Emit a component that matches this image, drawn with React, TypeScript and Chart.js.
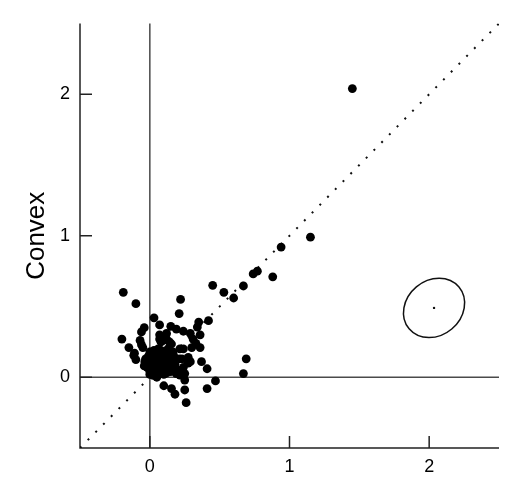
import React, { useEffect, useRef } from "react";
import { Chart, registerables } from "chart.js";

Chart.register(...registerables);

// Scatter values (x: reference method, y: Convex)
const xValues = [
  -0.19, -0.1, 0.22, 0.45, 0.53, 0.6, 0.67, 0.74, 0.77, 0.88, 0.94, 1.15, 1.45,
  0.21, 0.03, 0.07, 0.15, 0.19, 0.24, 0.29, 0.36, 0.35, 0.34, 0.42,
  -0.04, -0.06, -0.2, -0.15, -0.07, -0.06, -0.11, -0.115, -0.1,
  0.07, 0.12, 0.08, 0.14, 0.095, 0.08, 0.13, 0.215, 0.3, 0.36, 0.31, 0.17, 0.23, 0.275, 0.29,
  0.24, 0.2, 0.215, 0.25, 0.19, 0.13, 0.41, 0.69, 0.67, 0.47, 0.41, 0.25, 0.25, 0.26, 0.18,
  0.155, 0.1, 0.05, 0.024, 0.0, -0.02, -0.036, -0.05, 0.37, 0.165, 0.21,
  -0.03, -0.01, 0.0, 0.01, 0.02, 0.03, 0.04, 0.05, 0.05, 0.06, 0.07, 0.08, 0.09, 0.1, 0.11,
  0.12, 0.13, 0.14, 0.15, 0.16, 0.17, 0.18, 0.02, 0.04, 0.06, 0.08, -0.02, 0.0, 0.03, 0.1,
  0.12, 0.01, 0.06, 0.09, 0.11, 0.14, -0.04, 0.0, 0.07, 0.15,
  0.07, 0.12, 0.155, 0.275, 0.24, 0.33,
];
const convexValues = [
  0.6, 0.52, 0.55, 0.65, 0.6, 0.56, 0.645, 0.73, 0.75, 0.71, 0.92, 0.99, 2.04,
  0.45, 0.42, 0.37, 0.36, 0.34, 0.325, 0.31, 0.3, 0.39, 0.355, 0.4,
  0.35, 0.32, 0.27, 0.21, 0.26, 0.23, 0.17, 0.155, 0.125,
  0.3, 0.31, 0.25, 0.25, 0.26, 0.19, 0.2, 0.2, 0.21, 0.21, 0.27, 0.155, 0.13, 0.14, 0.11,
  0.07, 0.05, 0.015, 0.026, 0.026, 0.04, 0.06, 0.13, 0.026, -0.026, -0.08, -0.02, -0.09, -0.18, -0.12,
  -0.08, -0.06, 0.0, 0.014, 0.04, 0.07, 0.11, 0.21, 0.11, 0.18, 0.13,
  0.13, 0.15, 0.1, 0.12, 0.08, 0.14, 0.1, 0.06, 0.12, 0.16, 0.09, 0.13, 0.07, 0.11, 0.15,
  0.08, 0.12, 0.17, 0.1, 0.06, 0.13, 0.09, 0.04, 0.02, 0.03, 0.05, 0.09, 0.18, 0.19, 0.02,
  0.03, 0.06, 0.2, 0.17, 0.05, 0.14, 0.08, 0.02, 0.11, 0.04,
  0.27, 0.27, 0.235, 0.1, 0.2, 0.24,
];

const tickValues = [0, 1, 2];
const axisRange = [-0.5, 2.5];
const diagonalEnds = [-0.5, 2.5];
const ellipseCenter = [2.035, 0.49];
const ellipseRadii = [0.233, 0.197];
const ellipseAngleDeg = 40;

const FONT = "'Liberation Sans', Arial, Helvetica, sans-serif";

const decorPlugin = {
  id: "decor",
  beforeDatasetsDraw(chart: any) {
    const { ctx, chartArea, scales } = chart;
    const xs = scales.x;
    const ys = scales.y;
    const { left, right, top, bottom } = chartArea;
    ctx.save();
    // zero lines
    ctx.strokeStyle = "#4a4a4a";
    ctx.lineWidth = 1.5;
    const x0 = xs.getPixelForValue(0);
    const y0 = ys.getPixelForValue(0);
    ctx.beginPath();
    ctx.moveTo(x0, top);
    ctx.lineTo(x0, bottom);
    ctx.moveTo(left, y0);
    ctx.lineTo(right, y0);
    ctx.stroke();
    // axes
    ctx.strokeStyle = "#222";
    ctx.lineWidth = 1.5;
    ctx.beginPath();
    ctx.moveTo(left, top);
    ctx.lineTo(left, bottom);
    ctx.lineTo(right, bottom);
    ctx.stroke();
    // inward ticks
    ctx.beginPath();
    tickValues.forEach((v) => {
      const px = xs.getPixelForValue(v);
      ctx.moveTo(px, bottom);
      ctx.lineTo(px, bottom - 12);
      const py = ys.getPixelForValue(v);
      ctx.moveTo(left, py);
      ctx.lineTo(left + 12, py);
    });
    ctx.stroke();
    ctx.restore();
  },
  afterDatasetsDraw(chart: any) {
    const { ctx, scales } = chart;
    const xs = scales.x;
    const ys = scales.y;
    const cx = xs.getPixelForValue(ellipseCenter[0]);
    const cy = ys.getPixelForValue(ellipseCenter[1]);
    const pxPerUnit = Math.abs(xs.getPixelForValue(1) - xs.getPixelForValue(0));
    ctx.save();
    ctx.strokeStyle = "#111";
    ctx.lineWidth = 1.5;
    ctx.beginPath();
    ctx.ellipse(
      cx,
      cy,
      ellipseRadii[0] * pxPerUnit,
      ellipseRadii[1] * pxPerUnit,
      (-ellipseAngleDeg * Math.PI) / 180,
      0,
      Math.PI * 2
    );
    ctx.stroke();
    ctx.fillStyle = "#111";
    ctx.beginPath();
    ctx.arc(cx, cy, 1.2, 0, Math.PI * 2);
    ctx.fill();
    ctx.restore();
  },
};

export default function App() {
  const ref = useRef<HTMLCanvasElement | null>(null);
  useEffect(() => {
    if (!ref.current) return;
    const points = xValues.map((x, i) => ({ x, y: convexValues[i] }));
    const diag = diagonalEnds.map((v) => ({ x: v, y: v }));
    const chart = new Chart(ref.current, {
      type: "scatter",
      data: {
        datasets: [
          {
            data: diag,
            showLine: true,
            borderColor: "#111",
            borderWidth: 2,
            borderDash: [2, 9],
            pointRadius: 0,
            order: 2,
          } as any,
          {
            data: points,
            backgroundColor: "#000",
            borderWidth: 0,
            pointRadius: 4.4,
            order: 1,
          },
        ],
      },
      options: {
        responsive: false,
        animation: false,
        events: [],
        layout: { padding: { left: 0, right: 31, top: 23.5, bottom: 0 } },
        plugins: { legend: { display: false }, tooltip: { enabled: false } },
        scales: {
          x: {
            type: "linear",
            min: axisRange[0],
            max: axisRange[1],
            afterBuildTicks: (s: any) => {
              s.ticks = tickValues.map((v) => ({ value: v }));
            },
            afterFit: (s: any) => {
              s.height = 31;
            },
            grid: { display: false, drawTicks: false },
            border: { display: false },
            ticks: {
              color: "#000",
              padding: 8,
              maxRotation: 0,
              font: { family: FONT, size: 18 },
              callback: (v: any) => String(v),
            },
          },
          y: {
            type: "linear",
            min: axisRange[0],
            max: axisRange[1],
            afterBuildTicks: (s: any) => {
              s.ticks = tickValues.map((v) => ({ value: v }));
            },
            afterFit: (s: any) => {
              s.width = 80;
            },
            grid: { display: false, drawTicks: false },
            border: { display: false },
            title: {
              display: true,
              text: "Convex",
              color: "#000",
              font: { family: FONT, size: 26 },
              padding: { top: 21, bottom: 0 },
            },
            ticks: {
              color: "#000",
              padding: 10,
              font: { family: FONT, size: 18 },
              callback: (v: any) => String(v),
            },
          },
        },
      },
      plugins: [decorPlugin],
    });
    return () => chart.destroy();
  }, []);
  return (
    <div style={{ position: "fixed", left: 0, top: 0, width: 530, height: 479, background: "#fff" }}>
      <canvas ref={ref} width={530} height={479} />
    </div>
  );
}
